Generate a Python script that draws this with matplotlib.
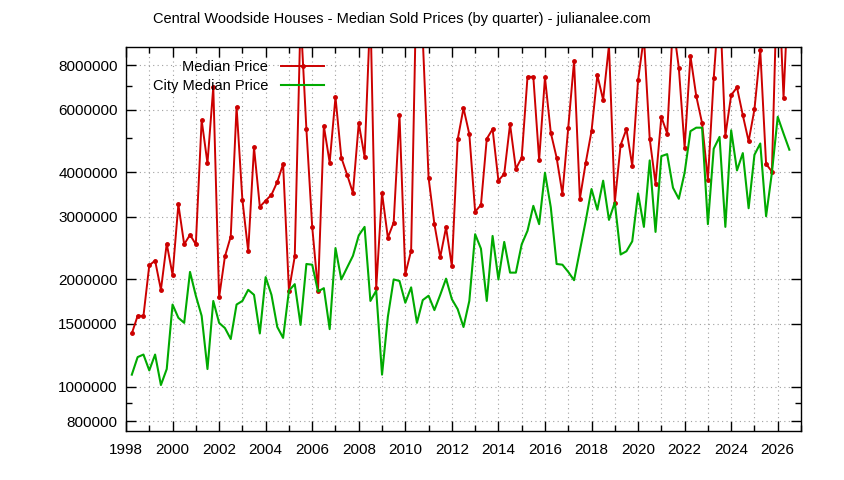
import matplotlib

matplotlib.use("Agg")
import matplotlib.pyplot as plt
import numpy as np
from matplotlib.ticker import FixedLocator, NullFormatter

# quarterly points, first is Q1 1998 plotted at 1998.25
first_quarter = 1998.25
n_quarters = 114

median_price = [
    1410000, 1580000, 1580000, 2190000, 2260000, 1870000, 2520000, 2060000, 3250000, 2510000,
    2670000, 2510000, 5610000, 4240000, 6950000, 1780000, 2320000, 2640000, 6110000, 3350000,
    2400000, 4700000, 3200000, 3330000, 3460000, 3760000, 4220000, 1860000, 2320000, 11000000,
    5290000, 2810000, 1860000, 5400000, 4260000, 6510000, 4400000, 3940000, 3500000, 5500000,
    4420000, 11500000, 1890000, 3500000, 2620000, 2890000, 5790000, 2070000, 2410000, 16000000,
    9500000, 3860000, 2860000, 2310000, 2800000, 2180000, 4950000, 6060000, 5120000, 3100000,
    3240000, 4970000, 5290000, 3790000, 3960000, 5460000, 4090000, 4400000, 7420000, 7420000,
    4330000, 7390000, 5170000, 4400000, 3480000, 5340000, 8220000, 3370000, 4250000, 5220000,
    7500000, 6390000, 9100000, 3290000, 4770000, 5290000, 4170000, 7260000, 9600000, 4970000,
    3720000, 5730000, 5140000, 10500000, 7880000, 4690000, 8490000, 6550000, 5500000, 3810000,
    7350000, 12500000, 5070000, 6590000, 6930000, 5790000, 4890000, 6010000, 8800000, 4220000,
    4020000, 16000000, 6480000, 15000000,
]

city_median_price = [
    1080000, 1210000, 1230000, 1110000, 1230000, 1010000, 1120000, 1700000, 1560000, 1510000,
    2100000, 1800000, 1580000, 1120000, 1740000, 1510000, 1460000, 1360000, 1700000, 1740000,
    1870000, 1810000, 1410000, 2030000, 1810000, 1470000, 1370000, 1860000, 1940000, 1490000,
    2210000, 2200000, 1850000, 1890000, 1450000, 2450000, 2000000, 2160000, 2330000, 2660000,
    2810000, 1740000, 1860000, 1080000, 1570000, 2000000, 1980000, 1720000, 1900000, 1510000,
    1750000, 1800000, 1640000, 1810000, 2010000, 1760000, 1650000, 1470000, 1740000, 2680000,
    2440000, 1740000, 2650000, 2000000, 2550000, 2090000, 2090000, 2510000, 2740000, 3220000,
    2860000, 3990000, 3190000, 2210000, 2200000, 2100000, 1990000, 2410000, 2920000, 3590000,
    3140000, 3790000, 2940000, 3290000, 2350000, 2400000, 2560000, 3490000, 2810000, 4320000,
    2720000, 4440000, 4500000, 3620000, 3370000, 3990000, 5220000, 5340000, 5340000, 2860000,
    4660000, 5030000, 2810000, 5250000, 4050000, 4530000, 3170000, 4480000, 4820000, 3010000,
    3990000, 5730000, 5140000, 4630000,
]

y_ticks = [800000, 1000000, 1500000, 2000000, 3000000, 4000000, 6000000, 8000000]
y_minor_ticks = [900000, 5000000, 7000000]
x_ticks = list(range(1998, 2027, 2))

title = "Central Woodside Houses - Median Sold Prices (by quarter) - julianalee.com"

plt.rcParams["font.family"] = ["Liberation Sans", "DejaVu Sans"]
plt.rcParams["font.size"] = 10.5

W, H = 844, 480
fig = plt.figure(figsize=(W / 100, H / 100), dpi=100)
ax = fig.add_axes([126 / W, 1 - 431 / H, (801 - 126) / W, (431 - 47) / H])

t = first_quarter + 0.25 * np.arange(n_quarters)

ax.plot(t, median_price, color="#cc0000", linewidth=1.4, marker="o",
        markersize=2.5, label="Median Price")
ax.plot(t, city_median_price, color="#00aa00", linewidth=1.5,
        label="City Median Price")

ax.set_yscale("log")
ax.set_ylim(750000, 9000000)
ax.set_xlim(1998, 2027)

ax.yaxis.set_major_locator(FixedLocator(y_ticks))
ax.set_yticklabels([str(v) for v in y_ticks])
ax.yaxis.set_minor_locator(FixedLocator(y_minor_ticks))
ax.yaxis.set_minor_formatter(NullFormatter())

ax.set_xticks(x_ticks)
ax.set_xticklabels([str(v) for v in x_ticks])
ax.xaxis.set_minor_locator(FixedLocator(range(1998, 2028)))

grid_style = dict(color="#a0a0a0", linestyle=(0, (1, 3)), linewidth=0.8)
ax.grid(True, which="major", axis="y", **grid_style)
ax.grid(True, which="both", axis="x", **grid_style)
ax.set_axisbelow(True)

ax.tick_params(which="major", direction="in", top=True, right=True,
               length=7, width=1, labelsize=11)
ax.tick_params(axis="x", which="major", pad=9)
ax.tick_params(axis="y", which="major", pad=6)
ax.tick_params(which="minor", direction="in", top=True, right=True,
               length=4, width=1)
for spine in ax.spines.values():
    spine.set_linewidth(1)

ax.legend(loc="upper right", bbox_to_anchor=(331 / W, 1 - 53 / H),
          bbox_transform=fig.transFigure, frameon=False, markerfirst=False,
          numpoints=1, handlelength=2.9, handletextpad=0.9,
          labelspacing=0.35, borderpad=0, fontsize=10.5)

fig.text(402 / W, 1 - 19 / H, title, ha="center", va="center", fontsize=10.5)

fig.savefig("out.png", dpi=100)
